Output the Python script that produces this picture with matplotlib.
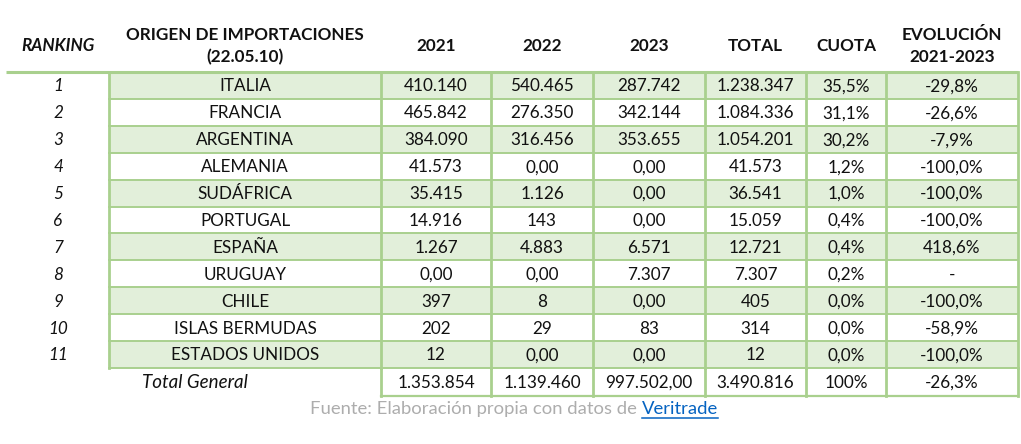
import matplotlib
matplotlib.use("Agg")
import matplotlib.pyplot as plt
from matplotlib.patches import Rectangle

plt.rcParams['font.family'] = ['Lato', 'DejaVu Sans']

# data
ranking = ["1", "2", "3", "4", "5", "6", "7", "8", "9", "10", "11"]
paises = ["ITALIA", "FRANCIA", "ARGENTINA", "ALEMANIA", "SUDÁFRICA", "PORTUGAL",
          "ESPAÑA", "URUGUAY", "CHILE", "ISLAS BERMUDAS", "ESTADOS UNIDOS"]
v2021 = ["410.140", "465.842", "384.090", "41.573", "35.415", "14.916",
         "1.267", "0,00", "397", "202", "12"]
v2022 = ["540.465", "276.350", "316.456", "0,00", "1.126", "143",
         "4.883", "0,00", "8", "29", "0,00"]
v2023 = ["287.742", "342.144", "353.655", "0,00", "0,00", "0,00",
         "6.571", "7.307", "0,00", "83", "0,00"]
total = ["1.238.347", "1.084.336", "1.054.201", "41.573", "36.541", "15.059",
         "12.721", "7.307", "405", "314", "12"]
cuota = ["35,5%", "31,1%", "30,2%", "1,2%", "1,0%", "0,4%",
         "0,4%", "0,2%", "0,0%", "0,0%", "0,0%"]
evolucion = ["-29,8%", "-26,6%", "-7,9%", "-100,0%", "-100,0%", "-100,0%",
             "418,6%", "-", "-100,0%", "-58,9%", "-100,0%"]
fila_total = ["1.353.854", "1.139.460", "997.502,00", "3.490.816", "100%", "-26,3%"]
encabezados = ["RANKING", "ORIGEN DE IMPORTACIONES\n(22.05.10)", "2021", "2022",
               "2023", "TOTAL", "CUOTA", "EVOLUCIÓN\n2021-2023"]

# layout (pixels)
W, H = 1021, 444
col_edges = [6, 109, 381, 491, 593, 705, 806, 886, 1018]
y_top = 72
row_h = 26.9
total_h = 28
green_fill = "#E2EFDA"
green_line = "#A9D08E"
fs = 12.3

fig = plt.figure(figsize=(W / 100, H / 100), dpi=100)
ax = fig.add_axes([0, 0, 1, 1])
ax.set_xlim(0, W)
ax.set_ylim(H, 0)
ax.axis("off")

centers = [(col_edges[i] + col_edges[i + 1]) / 2 for i in range(len(col_edges) - 1)]
centers[0] = 58

# header
for i, h in enumerate(encabezados):
    ax.text(centers[i], 46, h, ha="center", va="center", fontsize=fs,
            fontweight="bold", style="italic" if i == 0 else "normal",
            linespacing=1.45, color="#111111")

ax.plot([col_edges[0], col_edges[-1]], [y_top, y_top], color=green_line, lw=2.2,
        solid_capstyle="butt")

# body rows
columnas = [paises, v2021, v2022, v2023, total, cuota, evolucion]
for r in range(len(ranking)):
    y0 = y_top + r * row_h
    if r % 2 == 0:
        ax.add_patch(Rectangle((col_edges[1], y0), col_edges[-1] - col_edges[1], row_h,
                               facecolor=green_fill, edgecolor="none", zorder=0))
    yc = y0 + row_h / 2 + 1
    ax.text(centers[0], yc, ranking[r], ha="center", va="center", fontsize=fs,
            style="italic", color="#111111")
    for c, col in enumerate(columnas):
        ax.text(centers[c + 1], yc, col[r], ha="center", va="center", fontsize=fs,
                color="#111111")
    ax.plot([col_edges[1], col_edges[-1]], [y0 + row_h, y0 + row_h],
            color=green_line, lw=1.4, zorder=2)

y_body_end = y_top + len(ranking) * row_h
for x in col_edges[1:]:
    ax.plot([x, x], [y_top, y_body_end], color=green_line, lw=2, zorder=2)

# total row
y_tot_end = y_body_end + total_h
yc = y_body_end + total_h / 2 + 1
ax.text(195, yc, "Total General", ha="center", va="center", fontsize=13.5,
        style="italic", color="#111111")
for c, v in enumerate(fila_total):
    ax.text(centers[c + 2], yc, v, ha="center", va="center", fontsize=fs,
            color="#111111")
for x in col_edges[2:]:
    ax.plot([x, x], [y_body_end, y_tot_end], color=green_line, lw=2, zorder=2)
ax.plot([col_edges[2], col_edges[-1]], [y_tot_end, y_tot_end], color=green_line,
        lw=1.6, zorder=2)

# source
fs_src = 13.3
t1 = ax.text(310, 409, "Fuente: Elaboración propia con datos de ", ha="left",
             va="center", fontsize=fs_src, color="#ADADAD")
fig.canvas.draw()
bb = t1.get_window_extent().transformed(ax.transData.inverted())
t2 = ax.text(bb.x1, 409, "Veritrade", ha="left", va="center", fontsize=fs_src,
             color="#0563C1")
fig.canvas.draw()
bb2 = t2.get_window_extent().transformed(ax.transData.inverted())
ax.plot([bb2.x0, bb2.x1], [418, 418], color="#0563C1", lw=1.1)

fig.savefig("out.png", dpi=100)
